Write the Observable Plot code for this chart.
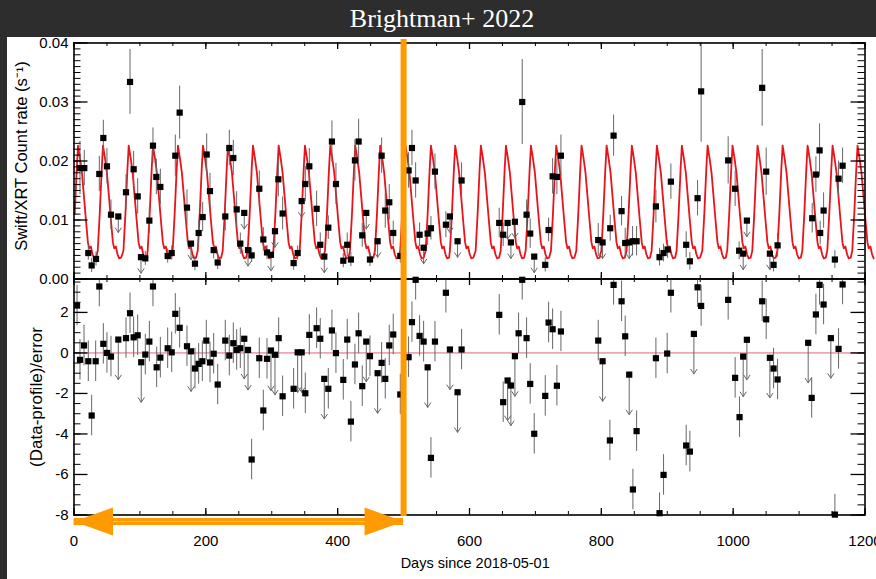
<!DOCTYPE html>
<html>
<head>
<meta charset="utf-8">
<script src="https://cdn.jsdelivr.net/npm/d3@7"></script>
<script src="https://cdn.jsdelivr.net/npm/@observablehq/plot@0.6"></script>
<style>
  html, body { margin: 0; padding: 0; background: #2d2d2d; }
  #page { position: relative; width: 876px; height: 579px; background: #2d2d2d; overflow: hidden; font-family: "Liberation Sans", Arial, sans-serif; }
  #title { position: absolute; left: 8px; top: 0; width: 868px; height: 37px; line-height: 37px; text-align: center; color: #fff; font-family: "Liberation Serif", "Times New Roman", serif; font-size: 26px; }
  #panel { position: absolute; left: 7px; top: 37px; width: 869px; height: 542px; background: #fff; }
  #top { position: absolute; left: 0; top: 37px; }
  #bot { position: absolute; left: 0; top: 270px; }
  svg { overflow: visible; }
</style>
</head>
<body>
<div id="page">
  <div id="title">Brightman+ 2022</div>
  <div id="panel"></div>
  <div id="top"></div>
  <div id="bot"></div>
</div>
<script>
// ---------------- data ----------------
// Top panel: Swift/XRT count rate. [day, rate (s^-1), 1-sigma error, upper limit?]
const countRate = [
  [9.1,0.0188,0.0045,0],[15.6,0.0188,0.003,0],[21.7,0.0044,0.0012,0],[26.8,0.0023,0.0012,0],
  [33.4,0.0034,0.0012,0],[38.4,0.0178,0.003,0],[44.5,0.0239,0.003,0],[50.0,0.0191,0.003,0],
  [56.1,0.0109,0.0025,0],[67.2,0.0106,0,1],[78.9,0.0147,0.003,0],[85.0,0.0334,0.0055,0],
  [90.5,0.0186,0.003,0],[96.6,0.0140,0.003,0],[101.6,0.0037,0,1],[108.2,0.0035,0.0012,0],
  [114.3,0.0099,0.0022,0],[119.8,0.0226,0.003,0],[124.9,0.0173,0.003,0],[131.0,0.0156,0.003,0],
  [142.1,0.0039,0.0012,0],[148.2,0.0044,0.0012,0],[153.7,0.0209,0.0035,0],[160.3,0.0282,0.0045,0],
  [171.4,0.0121,0.003,0],[177.5,0.0060,0,1],[183.5,0.0026,0.0012,0],[189.1,0.0078,0.0022,0],
  [195.2,0.0105,0.0025,0],[201.3,0.0211,0.0035,0],[206.3,0.0149,0.003,0],[211.9,0.0049,0.0015,0],
  [218.0,0.0028,0.0012,0],[229.5,0.0106,0.0025,0],[235.6,0.0222,0.003,0],[241.7,0.0205,0.003,0],
  [246.8,0.0118,0.003,0],[252.3,0.0060,0.0018,0],[258.3,0.0112,0,1],[264.0,0.0049,0,1],
  [269.5,0.0040,0.0012,0],[281.1,0.0153,0.003,0],[287.2,0.0067,0.002,0],[292.8,0.0045,0.0012,0],
  [298.8,0.0041,0,1],[304.9,0.0081,0,1],[310.0,0.0169,0.003,0],[316.5,0.0111,0.0028,0],
  [333.2,0.0027,0.0012,0],[339.3,0.0044,0.0012,0],[345.4,0.0132,0,1],[350.9,0.0161,0.003,0],
  [357.0,0.0191,0.003,0],[368.1,0.0119,0.003,0],[373.6,0.0058,0.002,0],[379.7,0.0038,0,1],
  [385.8,0.0087,0.002,0],[391.3,0.0233,0.0035,0],[397.4,0.0161,0.0035,0],[408.5,0.0031,0.0012,0],
  [414.5,0.0058,0.002,0],[420.1,0.0033,0.0012,0],[426.2,0.0201,0.0035,0],[431.8,0.0233,0.0038,0],
  [437.3,0.0074,0.002,0],[443.4,0.0112,0,1],[449.0,0.0033,0.0012,0],[460.6,0.0064,0,1],
  [466.7,0.0209,0.003,0],[472.2,0.0116,0.003,0],[478.3,0.0130,0.003,0],[484.3,0.0078,0.002,0],
  [495.0,0.0039,0.0012,0],[507.6,0.0184,0.003,0],[512.7,0.0222,0.003,0],[518.3,0.0167,0.003,0],
  [524.3,0.0075,0.002,0],[530.4,0.0053,0,1],[536.5,0.0077,0.002,0],[541.5,0.0086,0.002,0],
  [547.6,0.0182,0.003,0],[564.2,0.0092,0.0022,0],[570.3,0.0106,0,1],[581.9,0.0064,0,1],
  [588.0,0.0167,0.003,0],[645.1,0.0095,0.0025,0],[651.1,0.0075,0.002,0],[657.8,0.0095,0,1],
  [662.8,0.0062,0,1],[668.9,0.0097,0,1],[680.0,0.0300,0.0072,0],[686.6,0.0109,0.0025,0],
  [692.1,0.0077,0.0025,0],[698.2,0.0038,0,1],[714.9,0.0024,0.0012,0],[720.0,0.0083,0.002,0],
  [726.1,0.0174,0.003,0],[732.6,0.0173,0.003,0],[738.7,0.0209,0.0035,0],[795.3,0.0066,0.0028,0],
  [801.9,0.0062,0,1],[813.5,0.0086,0.0022,0],[818.6,0.0243,0.0035,0],[830.7,0.0115,0.0025,0],
  [836.2,0.0061,0.0025,0],[842.3,0.0062,0,1],[847.4,0.0064,0.0025,0],[853.5,0.0064,0.0025,0],
  [882.8,0.0123,0.0028,0],[888.3,0.0037,0.0015,0],[894.4,0.0044,0.0015,0],[900.5,0.0050,0.0015,0],
  [905.5,0.0165,0.003,0],[928.7,0.0058,0.0022,0],[934.3,0.0030,0.0015,0],[946.0,0.0137,0.003,0],
  [951.4,0.0318,0.0086,0],[992.4,0.0201,0.004,0],[1003.0,0.0153,0.003,0],[1009.1,0.0048,0.0015,0],
  [1015.2,0.0043,0,1],[1020.8,0.0099,0,1],[1044.0,0.0324,0.0065,0],[1050.1,0.0182,0.004,0],
  [1055.7,0.0043,0,1],[1061.3,0.0024,0.0012,0],[1067.4,0.0057,0.002,0],[1119.9,0.0103,0.0025,0],
  [1125.5,0.0177,0.003,0],[1131.1,0.0218,0.0045,0],[1132.0,0.0078,0.002,0],[1137.2,0.0116,0.003,0],
  [1154.3,0.0033,0.0015,0],[1159.9,0.0170,0.003,0],[1166.0,0.0192,0.003,0]
];

// Bottom panel: (Data-profile)/error. [day, residual, upper limit?]
const residuals = [
  [4.6,2.34,0],[9.1,-0.34,0],[15.2,0.37,0],[21.7,-0.41,0],[26.8,-3.09,0],[32.9,-0.41,0],
  [38.4,3.28,0],[44.5,0.45,0],[50.0,0.0,0],[56.1,-0.18,0],[67.2,0.66,1],[78.9,0.73,0],
  [85.0,1.96,0],[90.5,0.77,0],[96.6,0.87,0],[102.0,-0.46,1],[108.2,-0.08,0],[114.3,0.56,0],
  [119.8,3.28,0],[125.4,-0.71,0],[131.0,-0.23,0],[142.1,0.23,0],[148.2,0.03,0],[153.7,1.93,0],
  [160.3,1.24,0],[171.4,0.33,0],[177.5,0.08,1],[183.5,-0.77,0],[189.1,-0.54,0],[194.7,-0.41,0],
  [200.7,0.61,0],[206.3,-0.47,0],[211.9,-0.04,0],[218.0,-1.56,0],[229.5,0.61,0],[235.6,-0.13,0],
  [241.7,0.48,0],[246.8,0.15,0],[252.3,0.23,0],[258.3,0.70,1],[264.0,0.15,1],[269.5,-5.26,0],
  [281.1,-0.26,0],[287.2,-2.84,0],[292.8,-0.29,0],[298.8,0.12,1],[304.9,-0.09,1],[310.5,0.73,0],
  [316.5,-2.14,0],[333.2,-1.77,0],[339.3,0.03,1],[345.4,0.03,1],[350.9,-1.99,0],[357.0,0.89,0],
  [368.1,1.22,0],[373.6,0.70,0],[379.7,-1.28,1],[385.8,-1.77,0],[391.3,1.11,0],[397.4,-0.01,0],
  [408.5,-1.33,0],[414.5,0.66,0],[420.1,-3.39,0],[426.2,-0.57,0],[431.8,0.97,0],[437.3,-1.64,0],
  [443.4,0.56,1],[449.0,-0.16,0],[460.6,-1.00,1],[466.7,-0.49,0],[472.2,-1.28,0],[478.3,0.37,0],
  [484.3,0.91,0],[495.0,-2.05,0],[507.6,-0.21,0],[512.7,1.52,0],[518.3,3.61,0],[524.3,0.84,0],
  [530.4,0.56,0],[536.5,-0.71,1],[541.5,-5.18,0],[547.6,0.56,0],[564.2,2.97,0],[570.3,0.17,1],
  [581.9,-1.94,1],[588.0,0.17,0],[645.1,1.88,0],[651.1,-2.43,0],[657.8,-1.36,1],[662.8,-1.61,1],
  [668.9,-0.16,1],[674.5,0.97,0],[680.0,3.61,0],[686.6,0.73,0],[692.1,-1.53,0],[698.2,-3.99,0],
  [714.9,-2.12,0],[720.0,1.50,0],[726.1,1.17,0],[732.6,-1.62,0],[738.7,1.06,0],[795.3,0.61,0],
  [801.9,-0.41,1],[813.0,-4.32,0],[818.6,3.36,0],[830.7,2.55,0],[836.2,0.82,0],[842.3,-1.07,1],
  [847.9,-6.74,0],[853.5,-3.86,0],[882.8,-0.26,0],[888.3,-7.91,0],[894.4,-6.02,0],[899.9,-0.03,0],
  [905.5,2.97,0],[928.7,-4.57,0],[934.3,-4.87,0],[940.4,0.94,1],[946.0,3.24,0],[951.4,2.32,0],
  [992.4,2.62,0],[1003.0,-1.23,0],[1009.7,-3.17,0],[1015.2,-0.18,1],[1020.8,0.65,1],[1044.0,2.55,0],
  [1050.1,1.66,0],[1055.7,-0.24,1],[1061.3,-0.77,0],[1067.4,-1.31,0],[1113.8,0.50,1],[1119.1,-2.22,0],
  [1125.5,1.90,0],[1131.1,3.36,0],[1137.2,2.39,0],[1148.2,0.73,1],[1154.3,-7.98,0],[1159.9,0.20,0],
  [1166.0,3.38,0]
];

// Red model: one cycle of the profile (days from peak, rate) and the peak days
const profileShape = [
  [-8.0,0.0048],[-5.0,0.0110],[-2.0,0.0185],[0,0.0226],[3,0.0205],[6,0.0180],[9,0.0140],
  [12,0.0100],[15,0.0062],[17,0.0052],[19.5,0.0055],[22,0.0042],[24.5,0.0035],[27.5,0.0036]
];
const profilePeaks = [6.1,44.0,83.0,119.8,157.7,195.7,233.6,271.5,310.5,350.4,388.8,426.7,
  464.6,502.9,541.5,578.3,617.3,655.3,693.2,731.6,770.0,808.0,846.3,884.3,922.2,961.2,999.0,
  1037.0,1075.0,1112.9,1150.8,1188.7];
const modelEnd = 1214;

// axes
const xDomain = [0, 1200];
const xTicks = [0, 200, 400, 600, 800, 1000, 1200];
const rateDomain = [0, 0.04];
const rateTicks = [0, 0.01, 0.02, 0.03, 0.04];
const resDomain = [-8, 3.65];
const resTicks = [-8, -6, -4, -2, 0, 2];

// annotation (orange): split day and the span arrow
const splitDay = 500;
const spanDays = [0, 500];

// ---------------- derived tables ----------------
const topRows = countRate.map(([day, rate, err, ul]) => ({day, rate, err, ul}));
const topDet = topRows.filter(d => !d.ul);
const topUL = topRows.filter(d => d.ul);
const resRows = residuals.map(([day, v, ul]) => ({day, v, ul}));
const resDet = resRows.filter(d => !d.ul);
const resUL = resRows.filter(d => d.ul);
const model = [];
for (const p of profilePeaks) for (const [dt, r] of profileShape) {
  const day = p + dt;
  if (day >= 0 && day <= modelEnd) model.push({day, rate: r});
}
const xMinor = d3.range(xDomain[0], xDomain[1] + 1, 50);
const rateMinor = d3.range(0, 40.5, 1).map(d => d / 1000);
const resMinor = d3.range(-16, 8, 1).map(d => d / 2);

// ---------------- styles ----------------
const W = 876, mL = 73.5, mR = 11.5, frameW = W - mL - mR;
const ORANGE = "#ff9a00";
const GREY = "#666";
const font = "'Liberation Sans', Arial, Helvetica, sans-serif";

const ulShape = {
  draw(context, l) {
    context.moveTo(0, 0);
    context.lineTo(0, -l);
    context.moveTo(-3, -l + 4.5);
    context.lineTo(0, -l);
    context.lineTo(3, -l + 4.5);
  }
};
const headLeft = {draw(ctx) { ctx.moveTo(0, 0); ctx.lineTo(39, -14); ctx.lineTo(39, 14); ctx.closePath(); }};
const headRight = {draw(ctx) { ctx.moveTo(0, 0); ctx.lineTo(-39, -14); ctx.lineTo(-39, 14); ctx.closePath(); }};

function frameTicks(yMajor, yMinor, frameH) {
  return [
    Plot.tickY(yMinor, {y: d => d, insetRight: frameW - 7, stroke: "black", strokeWidth: 1}),
    Plot.tickY(yMinor, {y: d => d, insetLeft: frameW - 7, stroke: "black", strokeWidth: 1}),
    Plot.tickY(yMajor, {y: d => d, insetRight: frameW - 14, stroke: "black", strokeWidth: 1.3}),
    Plot.tickY(yMajor, {y: d => d, insetLeft: frameW - 14, stroke: "black", strokeWidth: 1.3}),
    Plot.tickX(xMinor, {x: d => d, insetBottom: frameH - 3.5, stroke: "black", strokeWidth: 1}),
    Plot.tickX(xMinor, {x: d => d, insetTop: frameH - 3.5, stroke: "black", strokeWidth: 1}),
    Plot.tickX(xTicks, {x: d => d, insetBottom: frameH - 6.5, stroke: "black", strokeWidth: 1.3}),
    Plot.tickX(xTicks, {x: d => d, insetTop: frameH - 6.5, stroke: "black", strokeWidth: 1.3}),
    Plot.frame({stroke: "black", strokeWidth: 1.6})
  ];
}

// ---------------- top panel ----------------
const topH = 242, topMT = 5.5, topMB = 0.5;
const topPlot = Plot.plot({
  width: W, height: topH,
  marginTop: topMT, marginBottom: topMB, marginLeft: mL, marginRight: mR,
  style: {background: "transparent", overflow: "visible", fontFamily: font, color: "black"},
  x: {domain: xDomain, axis: null},
  y: {domain: rateDomain, axis: null},
  marks: [
    Plot.line(model, {x: "day", y: "rate", stroke: "#e8141c", strokeWidth: 1.8}),
    Plot.ruleX(topDet, {x: "day", y1: d => d.rate - d.err, y2: d => d.rate + d.err, stroke: GREY, strokeWidth: 1, clip: true}),
    Plot.vector(topUL, {x: "day", y: "rate", length: 16, rotate: 180, anchor: "start", shape: ulShape, stroke: GREY, strokeWidth: 1}),
    Plot.dot(topRows, {x: "day", y: "rate", symbol: "square", r: 3.5, fill: "black", stroke: "none"}),
    ...frameTicks(rateTicks, rateMinor, topH - topMT - topMB),
    Plot.axisY(rateTicks, {tickSize: 0, tickPadding: 5.5, tickFormat: d3.format(".2f"), fontSize: 15, label: null}),
    Plot.text(["Swift/XRT Count rate (s\u207B\u00B9)"], {frameAnchor: "left", textAnchor: "middle", rotate: -90, dx: -52, dy: -5, fontSize: 16.5, fill: "black"}),
    Plot.ruleX([splitDay], {x: d => d, stroke: ORANGE, strokeWidth: 6, insetTop: -3.5, insetBottom: -1})
  ]
});
document.getElementById("top").appendChild(topPlot);

// ---------------- bottom panel ----------------
const botH = 309, botMT = 8.5, botMB = 64.5;
const botPlot = Plot.plot({
  width: W, height: botH,
  marginTop: botMT, marginBottom: botMB, marginLeft: mL, marginRight: mR,
  style: {background: "transparent", overflow: "visible", fontFamily: font, color: "black"},
  x: {domain: xDomain, axis: null},
  y: {domain: resDomain, axis: null},
  marks: [
    Plot.ruleY([0], {y: d => d, stroke: "#e0627a", strokeWidth: 1}),
    Plot.ruleX(resDet, {x: "day", y1: d => d.v - 1, y2: d => d.v + 1, stroke: GREY, strokeWidth: 1, clip: true}),
    Plot.vector(resUL, {x: "day", y: "v", length: 40, rotate: 180, anchor: "start", shape: ulShape, stroke: GREY, strokeWidth: 1}),
    Plot.dot(resRows, {x: "day", y: "v", symbol: "square", r: 3.5, fill: "black", stroke: "none"}),
    ...frameTicks(resTicks, resMinor, botH - botMT - botMB),
    Plot.axisY(resTicks, {tickSize: 0, tickPadding: 5.5, tickFormat: d => String(d), fontSize: 15, label: null}),
    Plot.axisX(xTicks, {tickSize: 0, tickPadding: 20, tickFormat: d => String(d), fontSize: 15, label: null}),
    Plot.text(["(Data-profile)/error"], {frameAnchor: "left", textAnchor: "middle", rotate: -90, dx: -37, dy: 0, fontSize: 17, fill: "black"}),
    Plot.text(["Days since 2018-05-01"], {frameAnchor: "bottom", textAnchor: "middle", dx: 5.7, dy: 53, fontSize: 14.5, fill: "black"}),
    Plot.ruleX([splitDay], {x: d => d, stroke: ORANGE, strokeWidth: 6, insetTop: -1, insetBottom: -1.5}),
    Plot.ruleY([resDomain[0]], {y: d => d, x1: spanDays[0], x2: spanDays[1], dy: 6.5, stroke: ORANGE, strokeWidth: 7}),
    Plot.ruleY([resDomain[0]], {y: d => d, x1: spanDays[0], x2: spanDays[1], dy: 6.5, stroke: "#ffc25a", strokeWidth: 1.2}),
    Plot.dot([spanDays[0]], {x: d => d, y: () => resDomain[0], dy: 6.5, symbol: headLeft, r: 5, fill: ORANGE, stroke: "none"}),
    Plot.dot([spanDays[1]], {x: d => d, y: () => resDomain[0], dy: 6.5, symbol: headRight, r: 5, fill: ORANGE, stroke: "none"})
  ]
});
document.getElementById("bot").appendChild(botPlot);
</script>
</body>
</html>
